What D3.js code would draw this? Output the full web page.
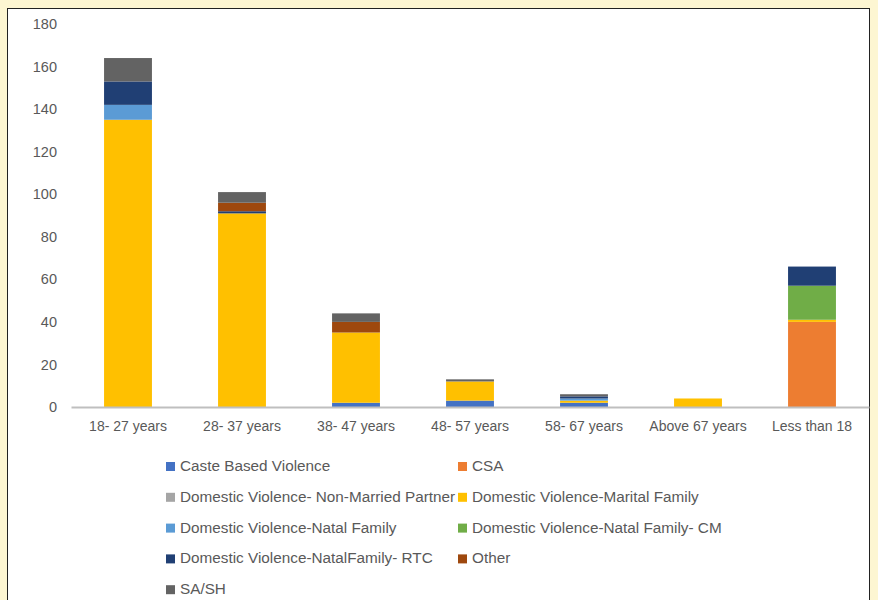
<!DOCTYPE html>
<html>
<head>
<meta charset="utf-8">
<script src="https://cdn.jsdelivr.net/npm/d3@7"></script>
<style>
  html, body { margin: 0; padding: 0; background: #fdf6d2; }
  svg { display: block; }
  text { font-family: "Liberation Sans", Arial, sans-serif; fill: #595959; }
</style>
</head>
<body>
<svg id="chart" width="878" height="600"></svg>
<script>
// Age groups along the x axis
const categories = ["18- 27 years", "28- 37 years", "38- 47 years", "48- 57 years", "58- 67 years", "Above 67 years", "Less than 18"];

// Case types, stacked bottom to top
const seriesNames = [
  "Caste Based Violence",
  "CSA",
  "Domestic Violence- Non-Married Partner",
  "Domestic Violence-Marital Family",
  "Domestic Violence-Natal Family",
  "Domestic Violence-Natal Family- CM",
  "Domestic Violence-NatalFamily- RTC",
  "Other",
  "SA/SH"
];

// Counts per age group for each case type
const casteBased      = [0, 0, 2, 3, 2, 0, 0];
const csa             = [0, 0, 0, 0, 0, 0, 40];
const dvNonMarried    = [0, 0, 0, 0, 0, 0, 0];
const dvMarital       = [135, 91, 33, 9, 1, 4, 1];
const dvNatal         = [7, 0, 0, 0, 1, 0, 0];
const dvNatalCM       = [0, 0, 0, 0, 0, 0, 16];
const dvNatalRTC      = [11, 1, 0, 0, 1, 0, 9];
const other           = [0, 4, 5, 0, 0, 0, 0];
const saSh            = [11, 5, 4, 1, 1, 0, 0];

const seriesValues = [casteBased, csa, dvNonMarried, dvMarital, dvNatal, dvNatalCM, dvNatalRTC, other, saSh];
const seriesColors = ["#4472c4", "#ed7d31", "#a5a5a5", "#ffc000", "#5b9bd5", "#70ad47", "#203f74", "#9e480e", "#636363"];

// Y axis tick labels
const yTicks = [0, 20, 40, 60, 80, 100, 120, 140, 160, 180];

const svg = d3.select("#chart");

// Chart frame
svg.append("rect")
  .attr("x", 7.5).attr("y", 8.5)
  .attr("width", 862).attr("height", 600)
  .attr("fill", "#ffffff")
  .attr("stroke", "#222222")
  .attr("stroke-width", 1);

const x = d3.scaleBand()
  .domain(categories)
  .range([71, 869])
  .paddingInner(0.58)
  .paddingOuter(0.29);

const y = d3.scaleLinear()
  .domain([0, 180])
  .range([407, 24]);

// Build table rows for the stack layout
const rows = categories.map((c, i) => {
  const r = { category: c };
  seriesNames.forEach((s, k) => { r[s] = seriesValues[k][i]; });
  return r;
});

const stacked = d3.stack().keys(seriesNames)(rows);
const color = d3.scaleOrdinal().domain(seriesNames).range(seriesColors);

// Y axis labels (no axis line)
const yAxis = d3.axisLeft(y).tickValues(yTicks).tickSize(0).tickPadding(0);
const yg = svg.append("g")
  .attr("transform", "translate(57,0)")
  .call(yAxis);
yg.select(".domain").remove();
yg.selectAll("text")
  .style("font-family", "Liberation Sans, Arial, sans-serif")
  .style("font-size", "14.5px")
  .attr("fill", "#595959");

// Stacked bars
svg.append("g")
  .selectAll("g")
  .data(stacked)
  .join("g")
  .attr("fill", d => color(d.key))
  .selectAll("rect")
  .data(d => d)
  .join("rect")
  .attr("x", d => x(d.data.category))
  .attr("width", x.bandwidth())
  .attr("y", d => y(d[1]))
  .attr("height", d => y(d[0]) - y(d[1]));

// X axis
const xAxis = d3.axisBottom(x).tickSize(0).tickPadding(14);
const xg = svg.append("g")
  .attr("transform", "translate(0,407)")
  .call(xAxis);
xg.select(".domain").attr("stroke", "#bfbfbf").attr("stroke-width", 2);
xg.selectAll("text")
  .style("font-family", "Liberation Sans, Arial, sans-serif")
  .style("font-size", "14px")
  .attr("fill", "#595959");

// Legend, two columns
const legend = svg.append("g");
const legendItems = legend.selectAll("g")
  .data(seriesNames)
  .join("g")
  .attr("transform", (d, i) => {
    const col = i % 2, row = Math.floor(i / 2);
    return `translate(${col === 0 ? 166 : 458},${465 + row * 30.8})`;
  });
legendItems.append("rect")
  .attr("x", 0).attr("y", -3)
  .attr("width", 9).attr("height", 9)
  .attr("fill", d => color(d));
legendItems.append("text")
  .attr("x", 14)
  .attr("y", 6)
  .style("font-size", "15.3px")
  .text(d => d);
</script>
</body>
</html>
